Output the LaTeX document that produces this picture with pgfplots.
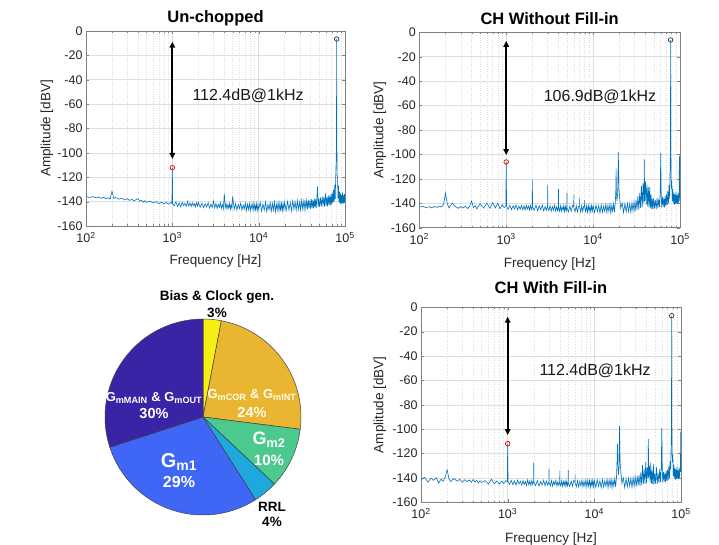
\documentclass[border=0pt]{standalone}
\usepackage{pgfplots}
\pgfplotsset{compat=1.18}
\usepackage{pgfplotstable}
\usetikzlibrary{arrows.meta}
\usepackage{fontspec}
\setmainfont{Liberation Sans}
\definecolor{mblue}{RGB}{0,114,189}
\definecolor{pieY}{RGB}{245,240,20}
\definecolor{pieO}{RGB}{234,181,48}
\definecolor{pieG}{RGB}{76,201,140}
\definecolor{pieC}{RGB}{31,168,222}
\definecolor{pieB}{RGB}{64,102,245}
\definecolor{pieP}{RGB}{58,36,166}

\pgfplotstableread{
100 -135.8
110 -136.6
120 -135.9
130 -136.9
140 -136.2
150 -137.3
160 -136.5
170 -137.6
180 -136.8
190 -137.9
200 -131.5
210 -137.4
220 -136.6
240 -138.0
260 -137.2
280 -138.6
300 -137.6
320 -139.0
340 -138.1
360 -139.5
380 -138.4
400 -137.5
420 -139.8
440 -138.9
460 -140.4
480 -139.2
500 -140.6
550 -139.6
600 -141.0
650 -140.0
700 -141.6
750 -140.3
800 -141.9
850 -140.6
900 -142.2
950 -140.8
990 -141.5
1000 -112.2
1010 -141.6
1050 -143.5
1100 -140.2
1150 -143.9
1200 -141.0
1250 -144.2
1300 -140.6
1350 -143.2
1400 -141.4
1450 -143.8
1500 -139.8
1550 -143.6
1600 -141.2
1650 -144.0
1700 -140.9
1750 -143.3
1800 -141.7
1850 -144.3
1900 -141.0
1950 -143.7
2000 -140.5
2100 -144.6
2200 -141.2
2300 -145.0
2400 -141.7
2500 -144.4
2600 -140.8
2700 -145.3
2800 -142.0
2900 -144.8
3000 -139.5
3100 -145.1
3200 -141.5
3300 -145.6
3400 -142.2
3500 -144.7
3600 -141.0
3700 -145.4
3800 -142.4
3900 -145.9
4000 -133.5
4100 -145.0
4200 -141.8
4300 -146.0
4400 -142.5
4500 -145.2
4600 -141.4
4700 -146.3
4800 -142.7
4900 -145.5
5000 -135.5
5200 -146.4
5400 -141.6
5600 -146.9
5800 -142.3
6000 -145.7
6200 -141.2
6400 -147.1
6600 -142.8
6800 -146.2
7000 -140.9
7200 -147.3
7400 -142.0
7600 -146.6
7800 -141.5
8000 -147.5
8200 -142.6
8400 -146.0
8600 -140.8
8800 -147.2
9000 -142.2
9200 -146.8
9400 -141.7
9600 -147.6
9800 -142.4
10000 -146.3
10400 -140.6
10800 -147.8
11200 -141.9
11600 -147.0
12000 -140.4
12400 -148.1
12800 -142.3
13200 -146.7
13600 -140.9
14000 -147.9
14400 -141.5
14800 -147.2
15200 -140.2
15600 -148.3
16000 -142.0
16400 -146.9
16800 -140.7
17200 -147.6
17600 -141.3
18000 -148.0
18400 -140.5
18800 -147.4
19200 -141.8
19600 -146.6
20000 -140.3
20800 -147.5
21600 -139.8
22400 -146.8
23200 -140.6
24000 -147.7
24800 -139.4
25600 -146.3
26400 -140.1
27200 -147.1
28000 -139.2
28800 -146.5
29600 -140.4
30400 -146.9
31200 -138.9
32000 -146.0
32800 -139.7
33600 -146.4
34400 -138.6
35200 -145.8
36000 -139.3
36800 -146.2
37600 -138.4
38400 -145.5
39200 -139.0
40000 -145.9
40800 -137.9
41600 -145.1
42400 -138.7
43200 -145.6
44000 -137.5
44800 -144.8
45600 -138.2
46400 -145.3
47200 -136.9
48000 -127.7
48800 -144.6
49600 -137.4
50800 -144.5
52000 -136.8
53200 -144.0
54400 -135.7
55600 -143.6
56800 -136.4
58000 -144.2
59200 -133.0
60400 -143.4
61600 -135.9
62800 -143.8
64000 -134.8
65200 -142.9
66400 -135.3
67600 -143.1
68800 -133.9
70000 -142.5
71200 -132.6
72400 -141.4
73600 -130.2
74800 -140.2
76000 -126.5
77000 -138.0
78000 -121.0
78800 -110.0
79300 -100.0
79700 -85.0
80000 -6.6
80300 -86.0
80700 -101.0
81200 -118.0
82000 -120.5
83000 -137.5
84000 -127.0
85000 -140.6
86250 -131.8
87500 -141.4
88750 -133.5
90000 -142.0
91250 -134.6
92500 -141.3
93750 -132.4
95000 -141.8
96250 -134.9
97500 -140.7
98750 -133.8
100000 -140.2
}\specA

\pgfplotstableread{
100 -143.2
110 -142.5
120 -143.6
130 -142.8
140 -143.9
150 -142.6
160 -143.4
170 -142.3
180 -143.1
190 -141.0
200 -131.5
210 -140.5
220 -143.8
240 -139.8
260 -142.9
280 -144.1
300 -142.7
320 -143.9
340 -142.4
360 -144.3
380 -142.6
400 -138.2
420 -143.4
440 -142.1
460 -144.6
480 -142.4
500 -140.5
550 -143.9
600 -139.8
650 -144.2
700 -139.5
750 -143.8
800 -140.0
850 -144.5
900 -141.2
950 -143.6
990 -142.0
1000 -106.2
1010 -142.3
1050 -144.9
1100 -141.8
1150 -145.2
1200 -142.1
1250 -144.6
1300 -141.5
1350 -145.4
1400 -142.4
1450 -144.9
1500 -141.7
1550 -145.3
1600 -142.0
1650 -145.6
1700 -141.6
1750 -144.8
1800 -142.3
1850 -145.5
1900 -141.9
1950 -145.0
1990 -142.5
2000 -121.0
2010 -143.0
2100 -145.8
2200 -141.6
2300 -146.0
2400 -142.2
2500 -145.3
2600 -141.4
2700 -146.2
2800 -142.6
2900 -145.7
2990 -142.0
3000 -125.3
3010 -143.5
3100 -146.1
3200 -141.9
3300 -146.4
3400 -142.7
3500 -145.6
3600 -141.5
3700 -146.3
3800 -142.8
3900 -146.0
3990 -142.5
4000 -128.3
4010 -143.6
4100 -146.5
4200 -142.0
4300 -146.7
4400 -142.9
4500 -145.8
4600 -141.7
4700 -146.8
4800 -142.5
4900 -146.2
4990 -142.4
5000 -131.3
5010 -143.8
5200 -147.0
5400 -142.3
5600 -146.6
5800 -141.8
5990 -143.0
6000 -132.7
6010 -144.0
6200 -146.9
6400 -142.1
6600 -147.2
6800 -142.6
6990 -142.0
7000 -136.0
7010 -143.0
7200 -147.3
7400 -141.9
7600 -146.7
7800 -142.5
7990 -141.5
8000 -137.5
8010 -143.5
8200 -146.8
8400 -142.2
8600 -147.4
8800 -141.7
9000 -146.5
9200 -142.4
9400 -147.1
9600 -141.9
9800 -146.3
10000 -142.1
10400 -147.6
10800 -141.4
11200 -146.9
11600 -142.0
12000 -148.0
12400 -141.2
12800 -147.3
13200 -142.3
13600 -146.6
14000 -140.9
14400 -147.8
14800 -141.6
15200 -146.8
15600 -140.7
16000 -147.9
16400 -141.8
16800 -146.4
17200 -140.5
17600 -147.2
18000 -139.5
18300 -128.0
18400 -111.4
18500 -130.0
18800 -138.0
19200 -132.0
19500 -98.0
19800 -128.0
20000 -131.0
20400 -138.5
20800 -144.0
21600 -139.8
22400 -147.6
23200 -140.5
24000 -147.0
24800 -139.9
25600 -146.8
26400 -140.3
27200 -147.4
28000 -139.6
28800 -146.5
29600 -138.8
30400 -146.9
31200 -137.5
32000 -145.6
32800 -134.0
33600 -145.2
34400 -131.5
35200 -144.0
36000 -126.0
36800 -143.0
37600 -123.5
38400 -140.0
38800 -104.0
39200 -138.5
40000 -122.0
40800 -141.0
41600 -124.5
42400 -142.5
43200 -127.0
44000 -143.4
44800 -126.6
45600 -144.0
46400 -133.0
47200 -144.6
48000 -136.5
48800 -145.0
49600 -136.0
50800 -144.2
52000 -137.2
53200 -144.8
54400 -135.8
55600 -143.9
56800 -136.6
58000 -143.2
59200 -131.0
60000 -99.0
60800 -133.0
61600 -143.5
62800 -134.9
64000 -142.8
65200 -135.4
66400 -143.3
67600 -134.1
68800 -142.4
70000 -132.8
71200 -141.6
72400 -129.9
73600 -140.0
74800 -125.0
76000 -136.5
77000 -110.0
77600 -97.0
78000 -6.3
78400 -84.0
78800 -112.0
79500 -128.0
80500 -121.5
81500 -138.0
82500 -128.5
83750 -140.1
85000 -131.2
86250 -141.0
87500 -132.9
88750 -140.4
90000 -130.7
91250 -139.8
92500 -133.6
93750 -140.6
95000 -131.4
96250 -139.5
97500 -133.0
98500 -101.0
99200 -134.0
100000 -138.5
}\specB

\pgfplotstableread{
100 -141.5
110 -139.6
120 -143.4
130 -140.2
140 -142.0
150 -139.8
160 -144.3
170 -141.0
180 -142.6
190 -139.5
200 -133.2
210 -140.8
220 -143.0
240 -140.4
260 -142.7
280 -141.2
300 -143.5
320 -141.5
340 -143.0
360 -141.7
380 -143.6
400 -141.3
420 -143.2
440 -142.0
460 -144.1
480 -142.3
500 -143.7
550 -142.2
600 -145.0
650 -141.0
700 -144.8
750 -142.4
800 -145.2
850 -142.6
900 -144.5
950 -142.2
990 -143.0
1000 -111.9
1010 -143.4
1050 -145.3
1100 -142.0
1150 -145.6
1200 -142.5
1250 -145.9
1300 -141.8
1350 -145.1
1400 -142.7
1450 -146.0
1500 -142.1
1550 -145.4
1600 -142.9
1650 -146.2
1700 -141.6
1750 -145.7
1800 -142.4
1850 -146.1
1900 -142.0
1950 -145.5
1990 -143.0
2000 -127.5
2010 -143.5
2100 -146.3
2200 -142.3
2300 -146.6
2400 -142.8
2500 -145.9
2600 -141.9
2700 -146.4
2800 -142.6
2900 -146.0
2990 -143.0
3000 -132.7
3010 -143.6
3100 -146.5
3200 -142.2
3300 -146.8
3400 -142.9
3500 -145.7
3600 -142.0
3700 -146.6
3800 -143.1
3900 -146.3
3990 -143.0
4000 -134.0
4010 -143.8
4100 -146.7
4200 -142.4
4300 -146.9
4400 -143.0
4500 -146.1
4600 -142.2
4700 -147.0
4800 -142.8
4900 -146.4
4990 -143.0
5000 -133.5
5010 -144.0
5200 -147.1
5400 -142.5
5600 -146.8
5800 -142.0
5990 -143.5
6000 -137.0
6010 -144.0
6200 -147.2
6400 -142.3
6600 -147.4
6800 -142.7
7000 -146.5
7200 -141.8
7400 -147.3
7600 -142.6
7800 -146.9
8000 -141.5
8200 -147.5
8400 -142.1
8600 -146.7
8800 -141.9
9000 -147.6
9200 -142.5
9400 -146.8
9600 -141.7
9800 -147.2
10000 -142.2
10400 -147.8
10800 -141.5
11200 -147.0
11600 -142.1
12000 -148.2
12400 -141.3
12800 -147.5
13200 -142.4
13600 -146.8
14000 -141.0
14400 -148.0
14800 -141.7
15200 -147.0
15600 -140.8
16000 -148.1
16400 -141.9
16800 -146.6
17200 -140.6
17600 -147.4
18000 -139.6
18300 -126.0
18500 -112.0
18700 -129.0
19000 -137.5
19300 -131.0
19500 -97.4
19800 -127.0
20000 -130.5
20400 -137.8
20800 -144.5
21600 -140.0
22400 -148.0
23200 -140.6
24000 -147.4
24800 -140.1
25600 -147.0
26400 -140.4
27200 -147.6
28000 -139.7
28800 -146.8
29600 -139.0
30400 -147.1
31200 -138.5
32000 -146.2
32800 -137.6
33600 -146.5
34400 -135.5
35200 -145.8
36000 -129.5
36800 -145.0
37600 -133.0
38400 -144.6
39200 -127.0
40000 -144.2
40800 -131.5
41600 -140.0
42000 -108.0
42400 -139.5
43200 -130.0
44000 -144.0
44800 -127.5
45600 -144.5
46400 -134.0
47200 -145.0
48000 -128.5
48800 -145.2
49600 -136.2
50800 -144.6
52000 -131.0
53200 -144.9
54400 -136.0
55600 -144.1
56800 -132.5
58000 -143.5
59200 -131.8
60000 -99.3
60800 -133.5
61600 -143.7
62800 -135.1
64000 -143.0
65200 -135.6
66400 -143.4
67600 -134.3
68800 -142.6
70000 -133.0
71200 -141.8
72400 -130.0
73600 -140.2
74800 -126.0
76000 -133.0
77000 -112.0
77600 -98.0
78000 -6.9
78400 -84.0
78800 -113.0
79500 -127.0
80500 -121.0
81500 -138.5
82500 -129.0
83750 -140.6
85000 -131.5
86250 -141.3
87500 -133.2
88750 -140.8
90000 -131.0
91250 -140.2
92500 -133.9
93750 -141.0
95000 -131.7
96250 -139.9
97500 -133.5
98500 -130.0
99300 -102.0
100000 -135.0
}\specC

\newcommand\slice[3]{%
  \pgfmathsetmacro\sa{90-3.6*#1}%
  \pgfmathsetmacro\sb{90-3.6*#2}%
  \filldraw[fill=#3, draw=black!75, line width=0.5pt] (203pt,127pt) -- ++(\sa:98pt) arc[start angle=\sa, end angle=\sb, radius=98pt] -- cycle;}

\begin{document}
\begin{tikzpicture}
\path[use as bounding box] (0pt,0pt) rectangle (719pt,544pt);

% --- Un-chopped
\begin{semilogxaxis}[scale only axis, at={(86pt,318pt)}, anchor=south west, width=259pt, height=195pt,
    xmin=100, xmax=100000, ymin=-160, ymax=0,
    xtick={100,1000,10000,100000},
    xticklabels={10\textsuperscript{2},10\textsuperscript{3},10\textsuperscript{4},10\textsuperscript{5}},
    ytick={-160,-140,-120,-100,-80,-60,-40,-20,0},
    yticklabels={-160,-140,-120,-100,-80,-60,-40,-20,0},
    grid=both,
    major grid style={black!13, line width=0.5pt},
    minor grid style={black!13, dotted, line width=0.5pt},
    axis line style={black!50, line width=0.6pt},
    major tick length=3pt, minor tick length=1.8pt,
    tick align=inside,
    xticklabel style={font=\fontsize{12.5}{14}\selectfont, text=black!85, yshift=-2.5pt},
    yticklabel style={font=\fontsize{12.5}{14}\selectfont, text=black!85},
    xlabel={Frequency [Hz]}, ylabel={Amplitude [dBV]},
    title={Un-chopped},
    title style={font=\bfseries\fontsize{16.5}{18}\selectfont, at={(axis description cs:0.5,1.037)}, anchor=center},
    xlabel style={font=\fontsize{13.5}{15}\selectfont, text=black!85, at={(axis description cs:0.5,-0.181)}, anchor=center},
    ylabel style={font=\fontsize{13.5}{15}\selectfont, text=black!85, at={(axis description cs:-0.151,0.5)}, anchor=center}]
\addplot[color=mblue, line width=0.6pt, no marks] table {\specA};
\addplot[black, line width=1.8pt, no marks, arrows={Triangle[length=6pt,width=5.5pt]-Triangle[length=6pt,width=5.5pt]}] coordinates {(1000,-8.8) (1000,-105)};
\addplot[only marks, mark=o, mark size=2.3pt, red!90!black, line width=0.7pt] coordinates {(1000,-112.2)};
\addplot[only marks, mark=o, mark size=2.3pt, black!80, line width=0.7pt] coordinates {(80000,-6.6)};
\node[font=\fontsize{16}{18}\selectfont, text=black!90] at (axis cs:7540,-53.5) {112.4dB@1kHz};
\end{semilogxaxis}

% --- CH Without Fill-in
\begin{semilogxaxis}[scale only axis, at={(419.3pt,316.3pt)}, anchor=south west, width=260.7pt, height=195.4pt,
    xmin=100, xmax=100000, ymin=-160, ymax=0,
    xtick={100,1000,10000,100000},
    xticklabels={10\textsuperscript{2},10\textsuperscript{3},10\textsuperscript{4},10\textsuperscript{5}},
    ytick={-160,-140,-120,-100,-80,-60,-40,-20,0},
    yticklabels={-160,-140,-120,-100,-80,-60,-40,-20,0},
    grid=both,
    major grid style={black!13, line width=0.5pt},
    minor grid style={black!13, dotted, line width=0.5pt},
    axis line style={black!50, line width=0.6pt},
    major tick length=3pt, minor tick length=1.8pt,
    tick align=inside,
    xticklabel style={font=\fontsize{12.5}{14}\selectfont, text=black!85, yshift=-2.5pt},
    yticklabel style={font=\fontsize{12.5}{14}\selectfont, text=black!85},
    xlabel={Frequency [Hz]}, ylabel={Amplitude [dBV]},
    title={CH Without Fill-in},
    title style={font=\bfseries\fontsize{16.5}{18}\selectfont, at={(axis description cs:0.5,1.040)}, anchor=center},
    xlabel style={font=\fontsize{13.5}{15}\selectfont, text=black!85, at={(axis description cs:0.5,-0.184)}, anchor=center},
    ylabel style={font=\fontsize{13.5}{15}\selectfont, text=black!85, at={(axis description cs:-0.151,0.5)}, anchor=center}]
\addplot[color=mblue, line width=0.6pt, no marks] table {\specB};
\addplot[black, line width=1.8pt, no marks, arrows={Triangle[length=6pt,width=5.5pt]-Triangle[length=6pt,width=5.5pt]}] coordinates {(1000,-7) (1000,-100.5)};
\addplot[only marks, mark=o, mark size=2.3pt, red!90!black, line width=0.7pt] coordinates {(1000,-106.2)};
\addplot[only marks, mark=o, mark size=2.3pt, black!80, line width=0.7pt] coordinates {(78000,-6.3)};
\node[font=\fontsize{16}{18}\selectfont, text=black!90] at (axis cs:12000,-53) {106.9dB@1kHz};
\end{semilogxaxis}

% --- CH With Fill-in
\begin{semilogxaxis}[scale only axis, at={(421pt,41.7pt)}, anchor=south west, width=260pt, height=195pt,
    xmin=100, xmax=100000, ymin=-160, ymax=0,
    xtick={100,1000,10000,100000},
    xticklabels={10\textsuperscript{2},10\textsuperscript{3},10\textsuperscript{4},10\textsuperscript{5}},
    ytick={-160,-140,-120,-100,-80,-60,-40,-20,0},
    yticklabels={-160,-140,-120,-100,-80,-60,-40,-20,0},
    grid=both,
    major grid style={black!13, line width=0.5pt},
    minor grid style={black!13, dotted, line width=0.5pt},
    axis line style={black!50, line width=0.6pt},
    major tick length=3pt, minor tick length=1.8pt,
    tick align=inside,
    xticklabel style={font=\fontsize{12.5}{14}\selectfont, text=black!85, yshift=-2.5pt},
    yticklabel style={font=\fontsize{12.5}{14}\selectfont, text=black!85},
    xlabel={Frequency [Hz]}, ylabel={Amplitude [dBV]},
    title={CH With Fill-in},
    title style={font=\bfseries\fontsize{16.5}{18}\selectfont, at={(axis description cs:0.5,1.069)}, anchor=center},
    xlabel style={font=\fontsize{13.5}{15}\selectfont, text=black!85, at={(axis description cs:0.5,-0.186)}, anchor=center},
    ylabel style={font=\fontsize{13.5}{15}\selectfont, text=black!85, at={(axis description cs:-0.158,0.5)}, anchor=center}]
\addplot[color=mblue, line width=0.6pt, no marks] table {\specC};
\addplot[black, line width=1.8pt, no marks, arrows={Triangle[length=6pt,width=5.5pt]-Triangle[length=6pt,width=5.5pt]}] coordinates {(1000,-7.7) (1000,-104.8)};
\addplot[only marks, mark=o, mark size=2.3pt, red!90!black, line width=0.7pt] coordinates {(1000,-111.9)};
\addplot[only marks, mark=o, mark size=2.3pt, black!80, line width=0.7pt] coordinates {(78000,-6.9)};
\node[font=\fontsize{16}{18}\selectfont, text=black!90] at (axis cs:10200,-52.5) {112.4dB@1kHz};
\end{semilogxaxis}

% --- Pie chart (percentages: 3, 24, 10, 4, 29, 30)
\slice{0}{3}{pieY}
\slice{3}{27}{pieO}
\slice{27}{37}{pieG}
\slice{37}{41}{pieC}
\slice{41}{70}{pieB}
\slice{70}{100}{pieP}

\node[font=\bfseries\fontsize{13.5}{15}\selectfont] at (217pt,247pt) {Bias \& Clock gen.};
\node[font=\bfseries\fontsize{13.5}{15}\selectfont] at (217pt,230.7pt) {3\%};
\node[font=\bfseries\fontsize{13}{14}\selectfont, text=white] at (154pt,146pt) {G\textsubscript{mMAIN} \& G\textsubscript{mOUT}};
\node[font=\bfseries\fontsize{14.5}{16}\selectfont, text=white] at (154pt,130pt) {30\%};
\node[font=\bfseries\fontsize{13}{14}\selectfont, text=white!92!yellow] at (252pt,149pt) {G\textsubscript{mCOR} \& G\textsubscript{mINT}};
\node[font=\bfseries\fontsize{14.5}{16}\selectfont, text=white!92!yellow] at (252pt,132pt) {24\%};
\node[font=\bfseries\fontsize{18}{20}\selectfont, text=white] at (269pt,104pt) {G\textsubscript{m2}};
\node[font=\bfseries\fontsize{15}{17}\selectfont, text=white] at (269pt,83.3pt) {10\%};
\node[font=\bfseries\fontsize{20}{22}\selectfont, text=white] at (179pt,82.3pt) {G\textsubscript{m1}};
\node[font=\bfseries\fontsize{16}{18}\selectfont, text=white] at (179pt,62pt) {29\%};
\node[font=\bfseries\fontsize{13.5}{15}\selectfont] at (272pt,37.3pt) {RRL};
\node[font=\bfseries\fontsize{13.5}{15}\selectfont] at (272pt,22.3pt) {4\%};
\end{tikzpicture}
\end{document}
